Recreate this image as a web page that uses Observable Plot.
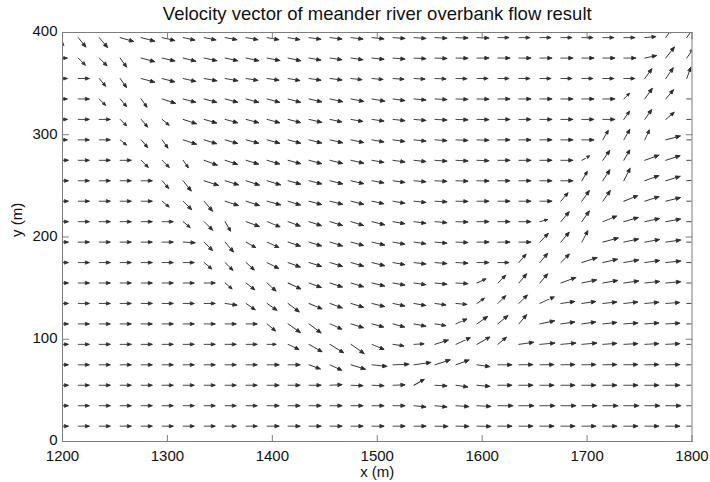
<!DOCTYPE html>
<html><head><meta charset="utf-8">
<script src="https://cdn.jsdelivr.net/npm/d3@7"></script>
<script src="https://cdn.jsdelivr.net/npm/@observablehq/plot@0.6"></script>
<style>body{margin:0;background:#fff} #chart svg{display:block}</style>
</head><body><div id="chart"></div>
<script>
const title = "Velocity vector of meander river overbank flow result";
const xLabel = "x (m)";
const yLabel = "y (m)";
const xTicks = [1200, 1300, 1400, 1500, 1600, 1700, 1800];
const yTicks = [0, 100, 200, 300, 400];

// grid nodes of the quiver (tails)
const xGrid = [1195,1215,1235,1255,1275,1295,1315,1335,1355,1375,1395,1415,1435,1455,1475,1495,1515,1535,1555,1575,1595,1615,1635,1655,1675,1695,1715,1735,1755,1775,1795];
const yGrid = [15,35,55,75,95,115,135,155,175,195,215,235,255,275,295,315,335,355,375,395];

// direction of each vector, degrees counter-clockwise from +x (rows bottom -> top)
const angles = [
[0,0,0,0,0,0,0,0,0,0,0,0,0,0,0,0,0,0,-1,-1,-1,0,0,0,0,0,0,0,0,0,0],
[0,0,0,0,0,0,0,0,0,0,0,0,0,0,0,0,0,-6,-6,-4,-3,0,0,0,0,0,0,0,0,0,0],
[0,0,0,0,0,0,0,0,0,0,0,0,0,3,-2,-2,2,30,-3,-8,-5,0,0,0,0,0,0,0,0,0,0],
[0,0,0,0,0,0,0,0,0,0,0,0,-20,-25,-17,-6,2,8,18,20,-8,0,1,1,1,1,1,1,1,1,0],
[0,0,0,0,0,0,0,0,0,0,0,-25,-30,-32,-35,-23,-8,3,18,25,30,40,8,5,5,5,4,3,3,3,0],
[0,0,0,0,0,0,0,0,0,0,-40,-35,-37,-24,-17,-15,-15,-11,-9,25,35,40,50,12,8,8,6,4,4,3,0],
[0,0,0,0,0,0,0,0,-8,-35,-35,-37,-23,-20,-17,-14,-12,-10,-8,-5,35,45,45,25,8,8,6,6,5,4,0],
[0,0,0,0,0,0,0,0,-40,-38,-42,-25,-20,-18,-17,-13,-10,-8,-6,-3,25,45,50,50,20,12,10,8,6,5,0],
[0,0,0,0,0,0,0,-40,-45,-42,-27,-20,-17,-17,-16,-14,-10,-7,-5,-3,0,0,50,50,45,18,13,10,8,6,0],
[0,0,0,0,0,0,-3,-45,-50,-30,-25,-18,-17,-17,-15,-13,-10,-8,-5,-2,0,0,0,46,50,62,15,12,10,8,0],
[0,0,0,0,0,0,-40,-45,-60,-20,-22,-20,-18,-17,-17,-14,-10,-8,-5,-2,0,0,0,15,50,55,22,16,12,10,0],
[0,0,0,0,0,-40,-45,-50,-18,-18,-15,-17,-15,-14,-14,-12,-10,-6,-3,-1,0,0,0,0,50,55,55,22,18,14,0],
[0,0,0,0,0,-50,-52,-18,-17,-18,-17,-15,-14,-14,-13,-10,-8,-5,-3,-2,-1,0,0,0,0,60,57,63,20,17,5],
[0,0,0,0,-45,-45,-55,-20,-18,-17,-16,-15,-15,-14,-13,-10,-8,-6,-4,-3,-2,0,0,0,0,30,55,60,20,18,0],
[0,0,0,-40,-50,-55,-18,-17,-16,-15,-15,-15,-14,-13,-12,-10,-8,-6,-4,-3,-2,0,0,0,0,0,60,60,65,15,0],
[0,0,0,-45,-50,-40,-18,-16,-15,-15,-15,-14,-13,-12,-10,-8,-6,-5,-3,-2,-1,0,0,0,0,0,0,55,55,40,0],
[0,0,-45,-50,-55,-18,-15,-15,-15,-15,-15,-15,-13,-12,-11,-10,-8,-5,-3,-2,-1,0,0,0,0,0,0,45,55,50,0],
[0,0,-50,-55,-15,-15,-13,-10,-10,-9,-8,-10,-8,-7,-6,-5,-4,-3,-2,-1,0,0,0,0,0,0,0,0,54,55,70],
[0,-45,-45,-55,-15,-13,-14,-12,-12,-12,-11,-12,-10,-8,-8,-6,-5,-3,-2,-1,0,0,0,0,0,0,0,0,12,52,55],
[-50,-51,-50,-16,-15,-13,-12,-11,-10,-10,-10,-10,-8,-7,-7,-6,-4,-4,-3,-2,-2,0,0,0,0,0,0,0,5,55,55]
];

// drawn length of each vector (rows bottom -> top)
const lengths = [
[11,11,11,11,11,11,11,11,11,11,12,12,12,12,12,12,12,12,13,13,14,14,14,14,14,14,14,14,14,14,12],
[11,11,11,11,11,11,11,11,11,11,12,12,12,12,12,12,12,12,12,13,14,15,15,15,15,15,15,15,15,15,12],
[11,11,11,11,11,11,11,11,11,11,12,12,12,12,12,12,12,12,12,12,13,14,14,14,14,14,14,14,14,14,12],
[11,11,11,11,11,11,11,11,11,11,12,12,12,13,15,15,16,17,16,14,13,14,14,14,14,14,14,14,14,14,12],
[11,11,11,11,11,11,11,11,11,11,9,12,15,16,16,13,11,10,14,16,15,11,15,15,15,15,14,14,14,14,12],
[11,11,11,11,11,11,11,11,11,11,11,15,15,13,13,12,12,12,11,12,13,13,12,15,14,14,14,14,14,14,12],
[11,11,11,11,11,11,11,11,12,11,12,14,14,13,13,13,12,12,11,11,9,11,12,16,14,14,14,14,14,14,12],
[11,11,11,11,11,11,11,11,9,11,12,14,13,13,13,13,12,12,12,12,10,11,12,12,16,15,15,15,15,15,12],
[11,11,11,11,11,11,11,10,11,11,13,13,13,13,13,13,12,12,12,12,12,11,11,12,12,16,15,15,15,15,12],
[11,11,11,11,11,11,12,12,13,11,13,13,13,13,13,13,12,12,12,12,12,12,12,12,13,13,16,15,15,15,12],
[11,11,11,11,11,11,9,12,11,14,14,13,13,13,13,13,12,12,12,12,12,12,12,8,13,13,15,15,15,15,12],
[11,11,11,11,11,9,12,13,14,14,14,13,13,13,13,12,12,12,12,12,12,12,12,12,11,13,13,15,15,15,12],
[11,11,11,11,11,10,13,15,14,14,14,13,13,13,13,12,12,12,12,12,12,12,12,12,12,11,13,14,15,15,12],
[11,11,11,11,10,10,9,14,13,13,13,13,13,13,13,12,12,12,12,12,12,12,12,12,12,9,12,12,15,15,12],
[10,11,11,8,10,10,14,13,13,13,13,13,13,13,13,12,12,12,12,12,12,12,12,12,12,12,11,12,11,15,12],
[10,11,11,9,10,9,14,13,13,13,13,13,13,12,12,12,12,12,12,12,12,12,12,12,12,12,12,10,12,11,10],
[10,11,9,10,10,14,13,13,13,13,13,13,13,13,13,13,12,12,12,12,12,12,12,12,12,12,12,8,13,12,10],
[10,11,10,11,14,13,13,13,13,12,12,12,12,12,11,11,11,11,11,11,11,11,11,11,11,11,11,11,12,13,12],
[10,10,11,11,14,13,13,13,13,13,13,13,12,12,12,12,12,12,12,12,12,12,12,12,12,12,12,12,12,14,12],
[10,12,13,14,14,13,12,12,12,12,12,12,12,12,12,12,12,12,12,12,12,11,11,11,11,11,11,11,11,10,10]
];

const vectors = [];
yGrid.forEach((y, j) => xGrid.forEach((x, k) => vectors.push({x, y, angle: angles[j][k], len: lengths[j][k]})));

const quiverShape = {
  draw(ctx, l) {
    const h = Math.min(4, l * 0.32), w = h * 0.42;
    ctx.moveTo(0, 0); ctx.lineTo(0, -l);
    ctx.moveTo(-w, h - l); ctx.lineTo(0, -l); ctx.lineTo(w, h - l); ctx.closePath();
  }
};
const tickShape = { draw(ctx, l) { ctx.moveTo(0, 0); ctx.lineTo(0, -l); } };
const frameColor = "#7d7d7d";

const chart = Plot.plot({
  width: 710, height: 482,
  marginTop: 32, marginRight: 18.5, marginBottom: 41, marginLeft: 62,
  x: {domain: [1200, 1800]},
  y: {domain: [0, 400]},
  length: {type: "identity"},
  style: {fontFamily: "'Liberation Sans', Arial, sans-serif", fontSize: "15px", color: "#111", background: "#fff"},
  marks: [
    Plot.vector(vectors, {x: "x", y: "y", rotate: d => 90 - d.angle, length: "len", anchor: "start",
      shape: quiverShape, stroke: "#333", fill: "#111", strokeWidth: 0.9, clip: true}),
    Plot.frame({stroke: frameColor}),
    Plot.vectorX(xTicks, {x: d => d, frameAnchor: "bottom", length: 6, rotate: 0, anchor: "start", shape: tickShape, stroke: frameColor, strokeWidth: 1}),
    Plot.vectorX(xTicks, {x: d => d, frameAnchor: "top", length: 6, rotate: 180, anchor: "start", shape: tickShape, stroke: frameColor, strokeWidth: 1}),
    Plot.vectorY(yTicks, {y: d => d, frameAnchor: "left", length: 6, rotate: 90, anchor: "start", shape: tickShape, stroke: frameColor, strokeWidth: 1}),
    Plot.vectorY(yTicks, {y: d => d, frameAnchor: "right", length: 6, rotate: -90, anchor: "start", shape: tickShape, stroke: frameColor, strokeWidth: 1}),
    Plot.axisX(xTicks, {anchor: "bottom", tickSize: 0, tickPadding: 8.5, tickFormat: d => String(d), label: null, fontSize: 15}),
    Plot.axisY(yTicks, {anchor: "left", tickSize: 0, tickPadding: 5, tickFormat: d => String(d), label: null, fontSize: 15, dy: -1}),
    Plot.text([title], {frameAnchor: "top", lineAnchor: "middle", dy: -18, fontSize: 18.5}),
    Plot.text([xLabel], {frameAnchor: "bottom", lineAnchor: "middle", dy: 31, fontSize: 15}),
    Plot.text([yLabel], {frameAnchor: "left", lineAnchor: "middle", dx: -45, rotate: -90, fontSize: 15})
  ]
});
document.getElementById("chart").appendChild(chart);
</script>
</body></html>
